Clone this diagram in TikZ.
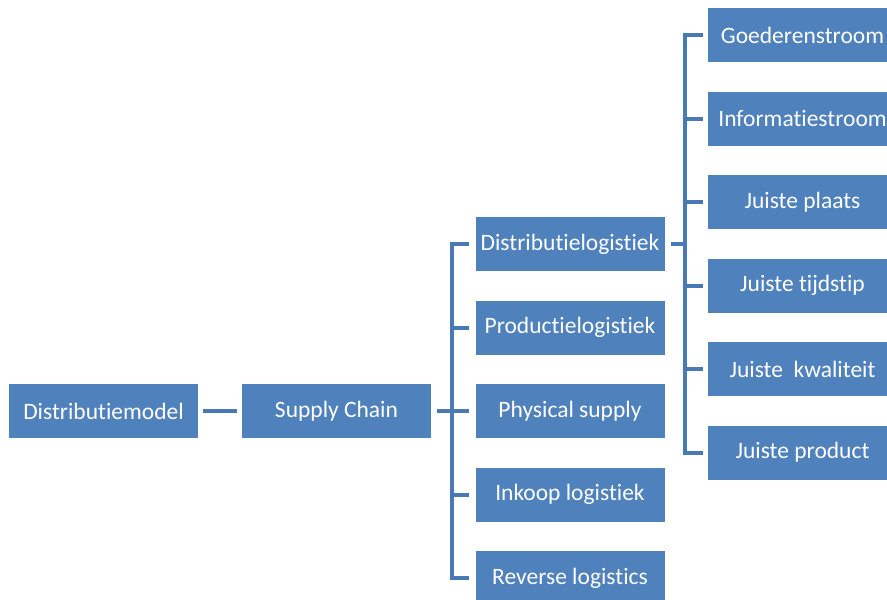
\documentclass[tikz,border=0pt]{standalone}
\usepackage{fontspec}
\setmainfont[Ligatures={NoCommon}]{Carlito}
\definecolor{boxblue}{HTML}{4F81BD}
\definecolor{linkblue}{HTML}{4A7AB5}
\begin{document}
\begin{tikzpicture}[x=1pt,y=-1pt,
  box/.style={fill=boxblue, draw=none, minimum width=189pt, minimum height=54pt,
    inner sep=0pt, text=white, font=\fontsize{23.5}{28}\selectfont},
  link/.style={draw=linkblue, line width=4pt, line join=miter}]
\clip (0,0) rectangle (887,600);
\node[box] (dm) at (103.5,411) {Distributiemodel};
\node[box] (sc) at (336.5,411) {Supply Chain};
\node[box] (d1) at (570,244) {Distributielogistiek};
\node[box] (d2) at (570,327.5) {Productielogistiek};
\node[box] (d3) at (570,411) {Physical supply};
\node[box] (d4) at (570,494.5) {Inkoop logistiek};
\node[box] (d5) at (570,578) {Reverse logistics};
\node[box] (g1) at (802.5,35) {Goederenstroom};
\node[box] (g2) at (802.5,118.5) {Informatiestroom};
\node[box] (g3) at (802.5,202) {Juiste plaats};
\node[box] (g4) at (802.5,285.5) {Juiste tijdstip};
\node[box] (g5) at (802.5,369) {Juiste\ \ kwaliteit};
\node[box] (g6) at (802.5,452.5) {Juiste product};
\coordinate (s1) at (452,0);
\coordinate (s2) at (685,0);
\draw[link] ([xshift=5pt]dm.east) -- ([xshift=-5pt]sc.west);
\draw[link] ([xshift=6pt]sc.east) -- (s1 |- sc);
\draw[link] ([xshift=-6pt]d1.west) -- (s1 |- d1) -- (s1 |- d5) -- ([xshift=-6pt]d5.west);
\foreach \n in {d2,d3,d4} \draw[link] (s1 |- \n) -- ([xshift=-6pt]\n.west);
\draw[link] ([xshift=6pt]d1.east) -- (s2 |- d1);
\draw[link] ([xshift=-5pt]g1.west) -- (s2 |- g1) -- (s2 |- g6) -- ([xshift=-5pt]g6.west);
\foreach \n in {g2,g3,g4,g5} \draw[link] (s2 |- \n) -- ([xshift=-5pt]\n.west);
\end{tikzpicture}
\end{document}
